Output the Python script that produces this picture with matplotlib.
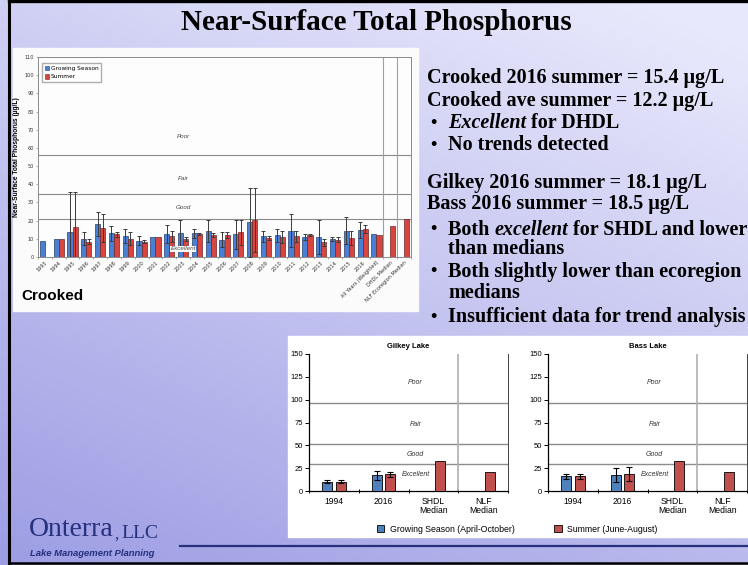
"""
Near-Surface Total Phosphorus summary slide: Crooked Lake history plus
Gilkey and Bass Lake comparisons, with notes on the right.
"""

import numpy as np
import matplotlib
matplotlib.use("Agg")
import matplotlib.pyplot as plt
from matplotlib.patches import Rectangle, Patch

W, H = 748, 565
SERIF = "Liberation Serif"
SANS = "Liberation Sans"
NAVY = "#26307c"
BLUE = "#4f81bd"
RED = "#c0504d"

# Crooked Lake, yearly means (ug/L)
crooked_cats = ["1993", "1994", "1995", "1996", "1997", "1998", "1999", "2000",
                "2001", "2002", "2003", "2004", "2005", "2006", "2007", "2008",
                "2009", "2010", "2011", "2012", "2013", "2014", "2015", "2016",
                "All Years (Weighted)", "DHDL Median", "NLF Ecoregion Median"]
crooked_gs = [9, 10, 13.5, 10, 18, 13, 11.5, 9, 11, 12.5, 13, 13, 14.5, 9.5,
              12.5, 19, 11.5, 12, 14.5, 11, 11, 10, 14.5, 15, 12.5,
              np.nan, np.nan]
crooked_gs_err = [0, 0, 22.5, 3.5, 6.5, 4, 4, 2.5, 0, 5, 7.5, 2.5, 6, 4,
                  8, 19, 3, 3.5, 9, 1.5, 9.5, 1, 7.5, 4.5, 0, 0, 0]
crooked_su = [np.nan, 10, 16.5, 8.5, 16, 12.5, 10, 8.5, 11, 11.5, 10, 12.5,
              12, 12, 13.5, 20.5, 10.5, 11, 11.5, 12, 8, 9.5, 10.5, 15.4,
              12.2, 17, 21]
crooked_su_err = [0, 0, 19.5, 1.5, 7.5, 1.5, 3.5, 1, 0, 3, 1, 0.5, 1, 1.5,
                  7, 17.5, 1, 3.5, 3, 0.5, 2, 1.5, 4, 2, 0, 0, 0]
dhdl_bounds = [21, 34.5, 56]

# Gilkey and Bass Lakes
small_cats = ["1994", "2016", "SHDL\nMedian", "NLF\nMedian"]
gilkey_gs = [10, 17, np.nan, np.nan]
gilkey_gs_err = [1.5, 4.5, 0, 0]
gilkey_su = [10, 18.1, 33, 21]
gilkey_su_err = [1.5, 3, 0, 0]
bass_gs = [16, 17.5, np.nan, np.nan]
bass_gs_err = [2.5, 8, 0, 0]
bass_su = [16, 18.5, 33, 21]
bass_su_err = [2.5, 7.5, 0, 0]
shdl_bounds = [29.5, 52, 96]
zone_labels = ["Excellent", "Good", "Fair", "Poor"]


def px_rect(x0, y0, x1, y1):
    return [x0 / W, 1 - y1 / H, (x1 - x0) / W, (y1 - y0) / H]


fig = plt.figure(figsize=(W / 100, H / 100), dpi=100)

# slide background
bg = fig.add_axes([0, 0, 1, 1])
yy, xx = np.mgrid[0:H, 0:W]
t = np.clip(0.2 + 0.55 * (1 - yy / H) + 0.3 * (xx / W), 0, 1)
dark = np.array([138, 138, 222]) / 255
light = np.array([232, 232, 252]) / 255
grad = dark + (light - dark) * t[..., None]
bg.imshow(grad, extent=[0, W, H, 0], aspect="auto", zorder=0)
bg.set_xlim(0, W)
bg.set_ylim(H, 0)
bg.axis("off")
bg.plot([9, 9], [0, 563], color="black", lw=2.2)
bg.plot([9, W], [1.2, 1.2], color="black", lw=2.4)
bg.plot([9, W], [562.5, 562.5], color="black", lw=1.8)

bg.text(376, 22, "Near-Surface Total Phosphorus", family=SERIF,
        fontweight="bold", fontsize=21, ha="center", va="center")

renderer = fig.canvas.get_renderer()


def draw_runs(x, y, runs, size, **kw):
    for txt, style in runs:
        tt = bg.text(x, y, txt, fontsize=size, fontstyle=style, va="center",
                     ha="left", **kw)
        x += tt.get_window_extent(renderer=renderer).width


# notes
notes = [
    (78, None, [("Crooked 2016 summer = 15.4 µg/L", "normal")]),
    (101, None, [("Crooked ave summer = 12.2 µg/L", "normal")]),
    (123, "•", [("Excellent", "italic"), (" for DHDL", "normal")]),
    (145, "•", [("No trends detected", "normal")]),
    (183, None, [("Gilkey 2016 summer = 18.1 µg/L", "normal")]),
    (204, None, [("Bass 2016 summer = 18.5 µg/L", "normal")]),
    (230, "•", [("Both ", "normal"), ("excellent", "italic"),
                (" for SHDL and lower", "normal")]),
    (249, "", [("than medians", "normal")]),
    (272, "•", [("Both slightly lower than ecoregion", "normal")]),
    (293, "", [("medians", "normal")]),
    (317, "•", [("Insufficient data for trend analysis", "normal")]),
]
for y, bullet, runs in notes:
    x0 = 427
    if bullet is not None:
        if bullet:
            bg.text(430, y, bullet, family=SERIF, fontweight="bold",
                    fontsize=13, va="center", ha="left")
        x0 = 448
    draw_runs(x0, y, runs, 14.5, family=SERIF, fontweight="bold")

# logo
draw_runs(29, 530, [("Onterra", "normal")], 20, family=SERIF, color=NAVY)
bg.text(114, 535, ",", family=SERIF, fontsize=12, color=NAVY, va="center")
bg.text(121, 533, "LLC", family=SERIF, fontsize=14, color=NAVY, va="center")
bg.text(30, 553, "Lake Management Planning", family=SANS, fontweight="bold",
        fontstyle="italic", fontsize=6.8, color=NAVY, va="center")
bg.plot([180, W], [546, 546], color=NAVY, lw=1.6)

# Crooked chart
bg.add_patch(Rectangle((13, 48), 405, 263, color="#fbfbfb", zorder=1))
bg.text(21, 296, "Crooked", family=SANS, fontweight="bold", fontsize=11,
        va="center", zorder=2)

ax = fig.add_axes(px_rect(38, 57, 411, 257))
ax.set_facecolor("#fdfdfd")
xc = np.arange(len(crooked_cats))
bw = 0.37
gs_err = np.where(np.array(crooked_gs_err) > 0, crooked_gs_err, np.nan)
su_err = np.where(np.array(crooked_su_err) > 0, crooked_su_err, np.nan)
ax.bar(xc - bw / 2, crooked_gs, bw, color="#4a7fd6", edgecolor="#2a3f6a",
       lw=0.5, zorder=3)
ax.bar(xc + bw / 2, crooked_su, bw, color="#d9443f", edgecolor="#6a2a2a",
       lw=0.5, zorder=3)
ax.errorbar(xc - bw / 2, crooked_gs, yerr=gs_err, fmt="none", ecolor="#3a3a3a",
            elinewidth=0.7, capsize=1.3, capthick=0.7, zorder=4)
ax.errorbar(xc + bw / 2, crooked_su, yerr=su_err, fmt="none", ecolor="#3a3a3a",
            elinewidth=0.7, capsize=1.3, capthick=0.7, zorder=4)
for b in dhdl_bounds:
    ax.axhline(b, color="#8a8a8a", lw=0.8, zorder=2)
for xb in (24.5, 25.5):
    ax.axvline(xb, color="#a0a0a0", lw=0.8, zorder=2)
label_y = [4.5, 27, 43, 66]
for name, ly in zip(zone_labels, label_y):
    kw = {}
    if name == "Excellent":
        kw["bbox"] = dict(facecolor="white", edgecolor="none", pad=0.3)
    ax.text(10, ly, name, fontsize=4.5, fontstyle="italic", family=SANS,
            ha="center", va="center", color="#444", zorder=5, **kw)
ax.set_xlim(-0.5, len(crooked_cats) - 0.5)
ax.set_ylim(0, 110)
ax.set_yticks(np.arange(0, 111, 10))
ax.set_xticks(xc)
ax.set_xticklabels(crooked_cats, rotation=45, ha="right",
                   rotation_mode="anchor")
ax.set_xticks(np.arange(-0.5, len(crooked_cats)), minor=True)
ax.tick_params(axis="x", which="major", length=0, labelsize=3.6, pad=2,
               labelcolor="#333")
ax.tick_params(axis="x", which="minor", length=1.5, width=0.4, color="#777")
ax.tick_params(axis="y", length=1.5, width=0.4, labelsize=3.6,
               labelcolor="#333", color="#777", pad=1.5)
for s in ax.spines.values():
    s.set_color("#8a8a8a")
    s.set_linewidth(0.7)
ax.set_ylabel("Near-Surface Total Phosphorus (µg/L)", fontsize=4.8,
              fontweight="bold", family=SANS, labelpad=3)
ax.legend(handles=[Patch(facecolor="#4a7fd6", edgecolor="#2a3f6a", lw=0.4),
                   Patch(facecolor="#d9443f", edgecolor="#6a2a2a", lw=0.4)],
          labels=["Growing Season", "Summer"], loc="upper left",
          fontsize=4.2, frameon=True, fancybox=False, edgecolor="#999",
          handlelength=0.7, handleheight=0.7, handletextpad=0.3,
          borderpad=0.5, labelspacing=0.6, bbox_to_anchor=(0.003, 0.985))

# Gilkey and Bass charts
bg.add_patch(Rectangle((288, 336), W - 288, 201, color="white", zorder=1))


def small_chart(rect, title, gs, gs_err, su, su_err):
    a = fig.add_axes(rect)
    a.set_facecolor("white")
    x = np.arange(len(small_cats)) + 0.5
    off, w = 0.135, 0.2
    ge = np.where(np.array(gs_err) > 0, gs_err, np.nan)
    se = np.where(np.array(su_err) > 0, su_err, np.nan)
    a.bar(x - off, gs, w, color=BLUE, edgecolor="black", lw=0.6, zorder=3)
    a.bar(x + off, su, w, color=RED, edgecolor="black", lw=0.6, zorder=3)
    a.errorbar(x - off, gs, yerr=ge, fmt="none", ecolor="black",
               elinewidth=0.8, capsize=2.2, capthick=0.8, zorder=4)
    a.errorbar(x + off, su, yerr=se, fmt="none", ecolor="black",
               elinewidth=0.8, capsize=2.2, capthick=0.8, zorder=4)
    for b in shdl_bounds:
        a.axhline(b, color="#8c8c8c", lw=1.0, zorder=2)
    a.axvline(3, color="#b0b0b0", lw=1.2, zorder=2)
    for name, ly in zip(zone_labels, [18.3, 40.3, 73.2, 119.3]):
        a.text(2.14, ly, name, fontsize=5, fontstyle="italic", family=SANS,
               ha="center", va="center", color="#333", zorder=5)
    a.set_xlim(0, 4)
    a.set_ylim(0, 150)
    a.set_yticks(np.arange(0, 151, 25))
    a.set_xticks(np.arange(0, 5))
    a.set_xticklabels([])
    a.set_xticks(x, minor=True)
    a.set_xticklabels(small_cats, minor=True, family=SANS, fontsize=6.2,
                      linespacing=1.0)
    a.tick_params(axis="x", which="major", length=3, width=0.7,
                  direction="inout")
    a.tick_params(axis="x", which="minor", length=0, pad=4)
    a.tick_params(axis="y", length=3, width=0.7, labelsize=5.5, pad=1.5)
    for lab in a.get_yticklabels():
        lab.set_family(SANS)
    a.spines["top"].set_visible(False)
    a.spines["right"].set_color("#444")
    a.spines["right"].set_linewidth(0.7)
    for s in ("left", "bottom"):
        a.spines[s].set_linewidth(0.9)
    a.set_title(title, fontsize=5.5, fontweight="bold", family=SANS, pad=4)
    return a


small_chart(px_rect(309, 354, 508, 491), "Gilkey Lake",
            gilkey_gs, gilkey_gs_err, gilkey_su, gilkey_su_err)
small_chart(px_rect(548, 354, 747, 491), "Bass Lake",
            bass_gs, bass_gs_err, bass_su, bass_su_err)

fig.legend(handles=[Patch(facecolor=BLUE, edgecolor="black", lw=0.6),
                    Patch(facecolor=RED, edgecolor="black", lw=0.6)],
           labels=["Growing Season (April-October)", "Summer (June-August)"],
           loc="center", bbox_to_anchor=(517 / W, 1 - 529 / H), ncol=2,
           frameon=False, prop={"family": SANS, "size": 6.3},
           handlelength=0.9, handleheight=0.9, handletextpad=0.6,
           columnspacing=4.5)

fig.savefig("out.png", dpi=100)
plt.close(fig)
